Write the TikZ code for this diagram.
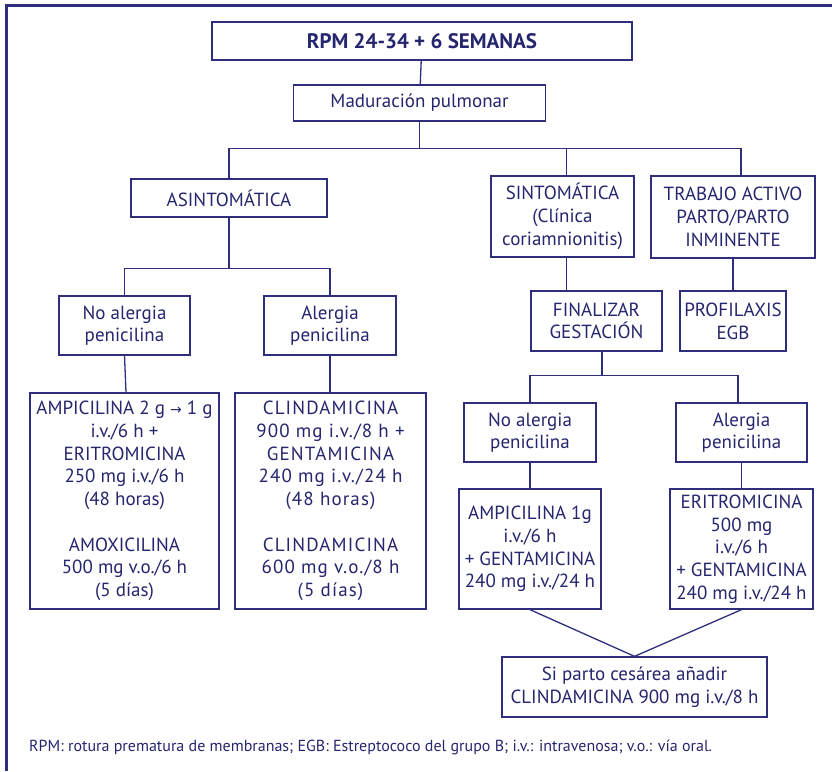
\documentclass[tikz,border=0pt]{standalone}
\usepackage{fontspec}
\setmainfont{PT Sans}
\newfontfamily\arrowfont{DejaVu Sans}
\usepackage{tikz}
\usetikzlibrary{positioning}
\definecolor{Ink}{HTML}{26266E}
\definecolor{Rule}{HTML}{2E2E7C}
\newcommand{\dosis}{\fontsize{19}{22.7}\selectfont}
\newcommand{\flecha}{{\arrowfont\fontsize{14}{14}\selectfont →}}

\begin{document}
\begin{tikzpicture}[
    x=1pt,y=-1pt,
    box/.style={draw=Rule,line width=1.3pt,fill=white,inner sep=0pt,
                align=center,text=Ink,font=\dosis},
    con/.style={draw=Rule,line width=1.3pt},
    note/.style={text=Ink,font=\fontsize{16}{18}\selectfont,anchor=west,inner sep=0pt}
  ]
    \useasboundingbox (0,0) rectangle (832,771);
    % marco
    \draw[draw=Rule,line width=3pt] (6,771) -- (6,5) -- (832,5);

    % nivel superior
    \node[box,minimum width=420,minimum height=38,font=\fontsize{21}{24}\selectfont\bfseries] (rpm) at (422,41) {RPM 24-34 + 6 SEMANAS};
    \node[box,minimum width=252,minimum height=36] (madur) at (419.5,103) {Maduración pulmonar};

    % ramas
    \node[box,minimum width=196,minimum height=38] (asint) at (229,198) {ASINTOMÁTICA};
    \node[box,minimum width=143,minimum height=81] (sint) at (562.5,216.5) {SINTOMÁTICA\\(Clínica\\coriamnionitis)};
    \node[box,minimum width=164,minimum height=82] (trab) at (733,217) {TRABAJO ACTIVO\\PARTO/PARTO\\INMINENTE};

    \node[box,minimum width=131,minimum height=59] (noal1) at (124.5,325.5) {No alergia\\penicilina};
    \node[box,minimum width=132,minimum height=59] (al1) at (330,325.5) {Alergia\\penicilina};
    \node[box,minimum width=131,minimum height=60] (fin) at (596.5,321) {FINALIZAR\\GESTACIÓN};
    \node[box,minimum width=106,minimum height=60] (prof) at (733,321) {PROFILAXIS\\EGB};

    % tratamientos asintomática
    \node[box,minimum width=189,minimum height=216] (trat1) at (124.5,501)
      {AMPICILINA 2 g \flecha{} 1 g\\i.v./6 h +\\ERITROMICINA\\250 mg i.v./6 h\\(48 horas)\\[22.7pt]AMOXICILINA\\500 mg v.o./6 h\\(5 días)};
    \node[box,minimum width=191,minimum height=216,font=\dosis\addfontfeature{LetterSpace=6}] (trat2) at (330.5,501)
      {CLINDAMICINA\\900 mg i.v./8 h +\\GENTAMICINA\\240 mg i.v./24 h\\(48 horas)\\[22.7pt]CLINDAMICINA\\600 mg v.o./8 h\\(5 días)};

    % finalizar gestación
    \node[box,minimum width=132,minimum height=59] (noal2) at (530,432.5) {No alergia\\penicilina};
    \node[box,minimum width=131,minimum height=59] (al2) at (741.5,432.5) {Alergia\\penicilina};
    \node[box,minimum width=142,minimum height=120] (trat3) at (530,549)
      {AMPICILINA 1g\\i.v./6 h\\+ GENTAMICINA\\240 mg i.v./24 h};
    \node[box,minimum width=143,minimum height=120] (trat4) at (741.5,549)
      {ERITROMICINA\\500 mg\\i.v./6 h\\+ GENTAMICINA\\240 mg i.v./24 h};
    \node[box,minimum width=265,minimum height=60] (cesar) at (634.5,687)
      {Si parto cesárea añadir\\CLINDAMICINA 900 mg i.v./8 h};

    \node[note] (pie) at (29,747) {RPM: rotura prematura de membranas; EGB: Estreptococo del grupo B; i.v.: intravenosa; v.o.: vía oral.};

    % conectores
    \draw[con] (rpm) -- (madur);
    \draw[con] (madur.south) -- ++(0,27) coordinate (bar1);
    \draw[con] (asint.north) |- (bar1) -| ([xshift=8]trab.north);
    \draw[con] ([xshift=4]sint.north) -- ([xshift=4]sint.north |- bar1);
    \draw[con] (asint.south) -- ++(0,51) coordinate (bar2);
    \draw[con] (noal1.north) |- (bar2) -| (al1.north);
    \draw[con] (noal1.south) -- ([xshift=1.5]trat1.north);
    \draw[con] (al1.south) -- (al1.south |- trat2.north);
    \draw[con] ([xshift=4]sint.south) -- ([xshift=4]sint.south |- fin.north);
    \draw[con] (trab.south) -- (prof.north);
    \draw[con] ([xshift=5.5]fin.south) -- ++(0,24) coordinate (bar3);
    \draw[con] (noal2.north) |- (bar3) -| ([xshift=-3.5]al2.north);
    \draw[con] (noal2.south) -- (trat3.north);
    \draw[con] (al2.south) -- (trat4.north);
    \draw[con] (trat3.south) -- (cesar.north);
    \draw[con] (trat4.south) -- (cesar.north);
\end{tikzpicture}
\end{document}
